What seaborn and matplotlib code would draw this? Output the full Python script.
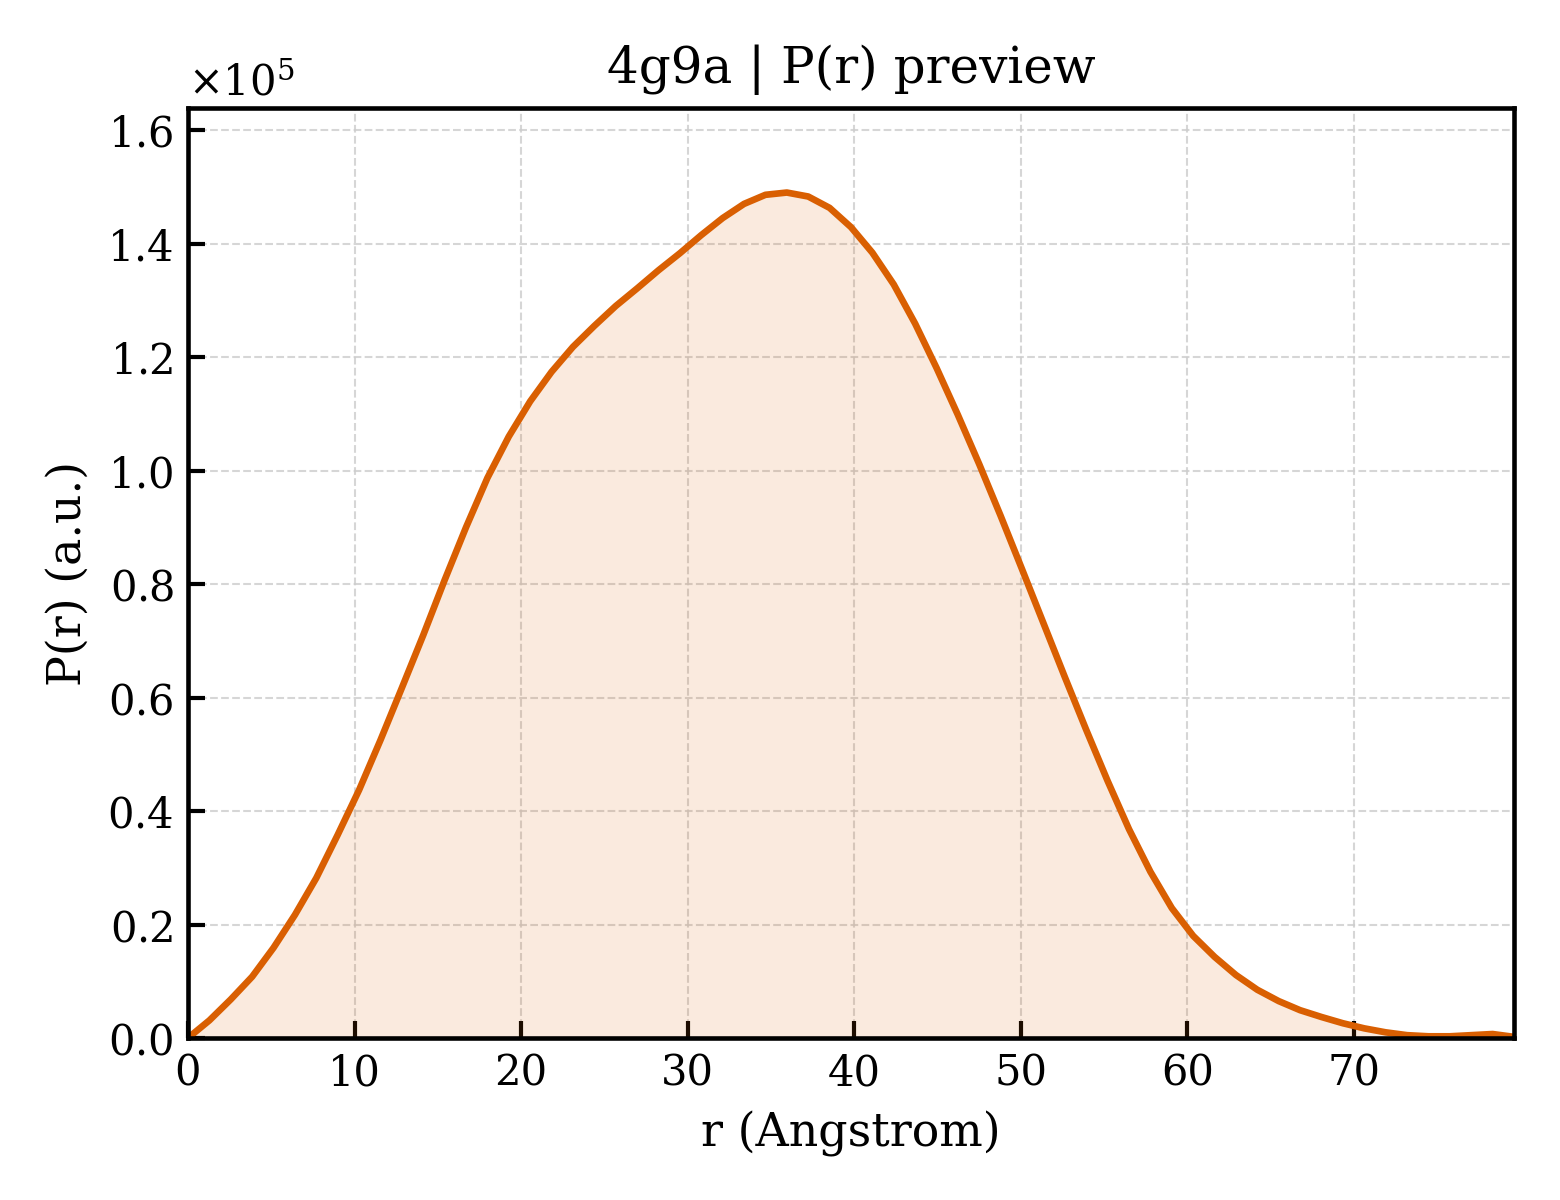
import matplotlib
matplotlib.use("Agg")
import numpy as np
import matplotlib.pyplot as plt
import seaborn as sns
from matplotlib.ticker import ScalarFormatter

# P(r) preview for 4g9a
r_max = 79.6
r_vals = np.linspace(0, r_max, 63)

pr_vals = np.array([
    0.000, 0.031, 0.068, 0.108, 0.159, 0.217, 0.282, 0.358, 0.437, 0.525,
    0.617, 0.710, 0.807, 0.900, 0.987, 1.060, 1.122, 1.174, 1.218, 1.255,
    1.290, 1.321, 1.353, 1.383, 1.415, 1.445, 1.470, 1.486, 1.490, 1.483,
    1.463, 1.429, 1.384, 1.328, 1.259, 1.181, 1.098, 1.011, 0.920, 0.826,
    0.731, 0.636, 0.543, 0.453, 0.368, 0.293, 0.229, 0.180, 0.143, 0.111,
    0.085, 0.065, 0.049, 0.037, 0.026, 0.017, 0.010, 0.005, 0.003, 0.003,
    0.005, 0.007, 0.002,
]) * 1e5

title = "4g9a | P(r) preview"
xlabel = "r (Angstrom)"
ylabel = "P(r) (a.u.)"
line_color = "#d95f02"

sns.set_theme(style="white")
plt.rcParams["font.family"] = ["DejaVu Serif"]
plt.rcParams["mathtext.fontset"] = "dejavuserif"
plt.rcParams["text.color"] = "black"
plt.rcParams["axes.labelcolor"] = "black"
plt.rcParams["xtick.color"] = "black"
plt.rcParams["ytick.color"] = "black"

fig, ax = plt.subplots(figsize=(5.2, 4), dpi=300)
fig.subplots_adjust(left=0.1205, right=0.9705, top=0.91, bottom=0.135)

sns.lineplot(x=r_vals, y=pr_vals, ax=ax, color=line_color, linewidth=1.6)
ax.fill_between(r_vals, pr_vals, 0, color=line_color, alpha=0.13, linewidth=0)

ax.set_xlim(0, r_max)
ax.set_ylim(0, pr_vals.max() * 1.1)
ax.set_xticks(np.arange(0, 80, 10))

fmt = ScalarFormatter(useMathText=True)
fmt.set_powerlimits((0, 0))
ax.yaxis.set_major_formatter(fmt)
ax.yaxis.get_offset_text().set_fontsize(10)
ax.yaxis.get_offset_text().set_color("black")

ax.grid(True, linestyle="--", linewidth=0.5, color="#cccccc", alpha=0.8)
ax.tick_params(direction="in", labelsize=10, length=4, width=1.0,
               colors="black", left=True, bottom=True, top=False, right=False)
for sp in ax.spines.values():
    sp.set_linewidth(1.1)
    sp.set_color("black")

ax.set_title(title, fontsize=12, color="black")
ax.set_xlabel(xlabel, fontsize=11, color="black")
ax.set_ylabel(ylabel, fontsize=11, color="black")

fig.savefig("out.png", dpi=300)
